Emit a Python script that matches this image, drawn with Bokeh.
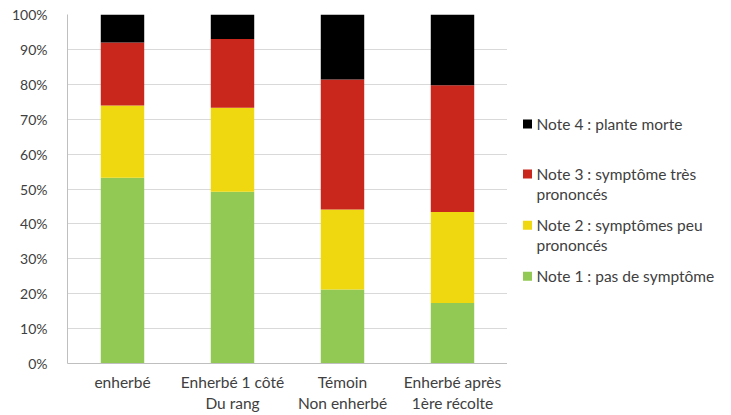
from bokeh.plotting import figure
from bokeh.layouts import row
from bokeh.models import NumeralTickFormatter, Range1d, FixedTicker
from bokeh.core.properties import value
from bokeh.embed import file_html
from bokeh.resources import INLINE

categories = ["enherbé", "Enherbé 1 côté\nDu rang", "Témoin\nNon enherbé", "Enherbé après\n1ère récolte"]
note1 = [53.2, 49.2, 21.2, 17.3]
note2 = [20.7, 24.1, 22.9, 26.1]
note3 = [18.1, 19.7, 37.3, 36.3]
note4 = [8.0, 7.0, 18.6, 20.3]
series_names = ["Note 1 : pas de symptôme", "Note 2 : symptômes peu\nprononcés",
                "Note 3 : symptôme très\nprononcés", "Note 4 : plante morte"]
colors = ["#92C955", "#EFD80F", "#C9271C", "#000000"]
y_ticks = [0, 10, 20, 30, 40, 50, 60, 70, 80, 90, 100]

FONT = "Lato"
TXT = "#404040"

data = {"cat": categories}
keys = ["n1", "n2", "n3", "n4"]
for k, s in zip(keys, [note1, note2, note3, note4]):
    data[k] = [v / 100 for v in s]

p = figure(x_range=categories, y_range=Range1d(0, 1), width=507, height=415,
           output_backend="svg", toolbar_location=None,
           min_border_left=67, min_border_right=0, min_border_top=14, min_border_bottom=40)
p.vbar_stack(keys, x="cat", width=0.395, color=colors, source=data, line_width=0)

p.outline_line_color = None
p.xgrid.grid_line_color = None
p.ygrid.grid_line_color = "#D9D9D9"
p.ygrid.grid_line_width = 1
p.yaxis.ticker = FixedTicker(ticks=[t / 100 for t in y_ticks])
p.yaxis.formatter = NumeralTickFormatter(format="0%")
for ax in (p.xaxis, p.yaxis):
    ax.axis_line_color = "#BFBFBF"
    ax.major_tick_line_color = None
    ax.minor_tick_line_color = None
    ax.major_label_text_font = FONT
    ax.major_label_text_font_size = "14px"
    ax.major_label_text_color = TXT
p.xaxis.major_label_text_font_size = "15.5px"
p.yaxis.major_label_standoff = 14
p.xaxis.major_label_standoff = 3
p.xaxis.major_label_text_line_height = 1.2

# legend panel (its frame is aligned with the chart frame in the row, so share the y range)
lg = figure(width=224, height=415, x_range=Range1d(0, 224), y_range=p.y_range,
            output_backend="svg", toolbar_location=None, x_axis_type=None, y_axis_type=None,
            min_border=0)
lg.outline_line_color = None
lg.grid.visible = False
order = [3, 2, 1, 0]
ys = [0.686, 0.543, 0.396, 0.250]
line_gap = 0.057
for i, y in zip(order, ys):
    lg.rect(x=[20], y=[y], width=9, height=9, width_units="screen", height_units="screen",
            color=colors[i], line_width=0)
    for j, line in enumerate(series_names[i].split("\n")):
        lg.text(x=[29], y=[y - line_gap * j], text=[line], text_font=value(FONT),
                text_font_size="15.5px", text_color=TXT, text_baseline="middle")

layout = row(p, lg)
open("out.html", "w").write(file_html(layout, INLINE))
